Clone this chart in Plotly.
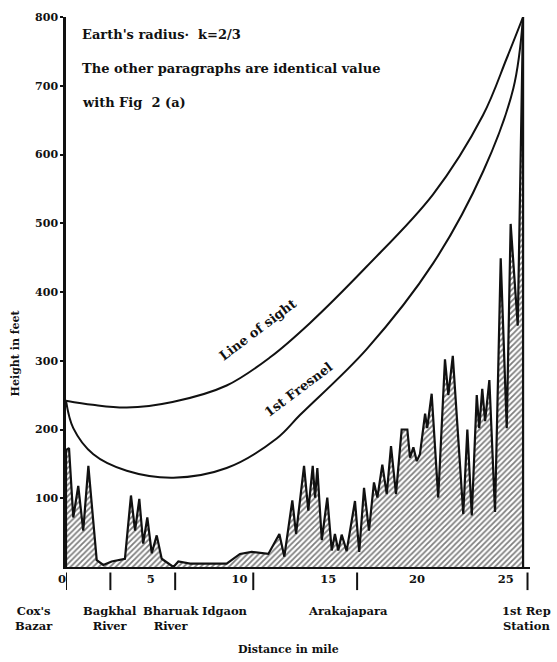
import plotly.graph_objects as go

# Terrain profile along the path (distance in miles, ground height in feet)
terrain_mi = [0.0, 0.0, 0.17, 0.41, 0.69, 0.97, 1.26, 1.73, 2.10, 2.57, 3.32, 3.66, 3.89,
              4.13, 4.35, 4.58, 4.83, 5.11, 5.39, 6.05, 6.33, 6.99, 9.05, 9.80, 10.46,
              11.40, 12.02, 12.30, 12.75, 12.96, 13.41, 13.65, 13.90, 14.03, 14.16,
              14.41, 14.72, 14.97, 15.15, 15.34, 15.53, 15.81, 16.28, 16.52, 16.79,
              17.07, 17.35, 17.54, 17.82, 18.07, 18.31, 18.59, 18.91, 19.23, 19.38,
              19.57, 19.76, 19.94, 20.23, 20.35, 20.60, 20.97, 21.35, 21.54, 21.79,
              22.38, 22.61, 22.86, 23.14, 23.28, 23.45, 23.61, 23.85, 24.17, 24.49,
              24.83, 25.05, 25.45, 25.75, 25.75]
terrain_ft = [0, 170, 173, 72, 118, 53, 147, 10, 3, 8, 12, 104, 53,
              99, 34, 72, 20, 46, 12, 0, 8, 5, 5, 19, 22,
              19, 48, 15, 97, 48, 147, 82, 147, 101, 144,
              39, 101, 24, 48, 24, 47, 23, 96, 22, 115,
              53, 123, 101, 149, 106, 176, 106, 200, 200, 159,
              174, 154, 164, 223, 202, 252, 101, 302, 250, 307,
              77, 200, 75, 250, 202, 259, 212, 272, 80, 449,
              202, 499, 351, 800, 0]

# Line of sight (k = 2/3)
los_mi = [0.0, 1.5, 3.42, 6.0, 9.05, 11.5, 13.75, 16.94, 20.68, 23.49, 24.83, 25.75]
los_ft = [242, 236, 232, 240, 264, 305, 355, 437, 542, 657, 740, 800]

# First Fresnel zone clearance line
fres_mi = [0.0, 0.41, 1.54, 3.42, 6.05, 9.05, 11.87, 13.18, 16.94, 20.69, 23.51, 25.2, 25.75]
fres_ft = [242, 202, 164, 140, 130, 144, 187, 221, 317, 442, 576, 696, 800]

# Place markers along the route
place_mi = [0.0, 2.5, 6.15, 10.55, 16.4, 26.0]
place_names = ["Cox's<br>Bazar", "Bagkhal<br>River", "Bharuak<br>River", "Idgaon",
               "Arakajapara", "1st Rep<br>Station"]
place_label_shift = [-32, 0, -4, -28, -9, -1]

x_ticks = [0, 5, 10, 15, 20, 25]
y_ticks = [100, 200, 300, 400, 500, 600, 700, 800]

FONT = "DejaVu Serif"
INK = "#111111"

fig = go.Figure()

fig.add_trace(go.Scatter(
    x=terrain_mi, y=terrain_ft, mode="lines", fill="tozeroy",
    line=dict(color=INK, width=2.2),
    fillcolor="white",
    fillpattern=dict(shape="/", fgcolor="#000000", bgcolor="white", size=4, solidity=0.45),
    hoverinfo="skip", showlegend=False,
))
fig.add_trace(go.Scatter(
    x=los_mi, y=los_ft, mode="lines", line=dict(color=INK, width=2, shape="spline"),
    hoverinfo="skip", showlegend=False,
))
fig.add_trace(go.Scatter(
    x=fres_mi, y=fres_ft, mode="lines", line=dict(color=INK, width=2, shape="spline"),
    hoverinfo="skip", showlegend=False,
))

# short vertical bars below the axis marking each place
for xm in place_mi:
    fig.add_shape(type="line", xref="x", yref="paper", x0=xm, x1=xm, y0=-0.01, y1=-0.042,
                  line=dict(color=INK, width=2))

for xm, name, dx in zip(place_mi, place_names, place_label_shift):
    fig.add_annotation(x=xm, y=-0.063, xref="x", yref="paper", text=f"<b>{name}</b>",
                       showarrow=False, xanchor="center", yanchor="top", xshift=dx,
                       font=dict(family=FONT, size=11.5, color=INK), align="center")

fig.add_annotation(x=0.48, y=-0.135, xref="paper", yref="paper",
                   text="<b>Distance in mile</b>", showarrow=False, yanchor="top",
                   xanchor="center", font=dict(family=FONT, size=11, color=INK))
fig.add_annotation(x=-0.108, y=0.39, xref="paper", yref="paper", textangle=-90,
                   text="<b>Height in feet</b>", showarrow=False,
                   xanchor="center", yanchor="middle",
                   font=dict(family=FONT, size=11, color=INK))

notes = ["Earth's radius·  k=2/3", "The other paragraphs are identical value",
         "with Fig  2 (a)"]
for i, line in enumerate(notes):
    fig.add_annotation(x=0.03, y=0.968 - i * 0.062, xref="paper", yref="paper",
                       text=f"<b>{line}</b>", showarrow=False, xanchor="left",
                       yanchor="middle", font=dict(family=FONT, size=13, color=INK))

fig.add_annotation(x=10.82, y=345, text="<b>Line of sight</b>", showarrow=False,
                   textangle=-37, font=dict(family=FONT, size=13, color=INK))
fig.add_annotation(x=13.1, y=258, text="<b>1st Fresnel</b>", showarrow=False,
                   textangle=-37, font=dict(family=FONT, size=13, color=INK))

fig.update_layout(
    width=557, height=662,
    margin=dict(l=66, r=27, t=11, b=95),
    paper_bgcolor="white", plot_bgcolor="white",
    font=dict(family=FONT, color=INK),
    xaxis=dict(range=[0, 26.14], tickvals=x_ticks, ticktext=[f"<b>{v}</b>" for v in x_ticks],
               showgrid=False, zeroline=False, showline=True, linecolor=INK, linewidth=2,
               ticks="", ticklabelshift=-4, tickfont=dict(family=FONT, size=11.5, color=INK)),
    yaxis=dict(range=[0, 800], tickvals=y_ticks, ticktext=[f"<b>{v}</b>" for v in y_ticks],
               showgrid=False, zeroline=False, showline=True, linecolor=INK, linewidth=2.5,
               ticks="outside", ticklen=3, tickwidth=1.5, tickcolor=INK,
               tickfont=dict(family=FONT, size=11, color=INK)),
)

fig.write_html("out.html")
